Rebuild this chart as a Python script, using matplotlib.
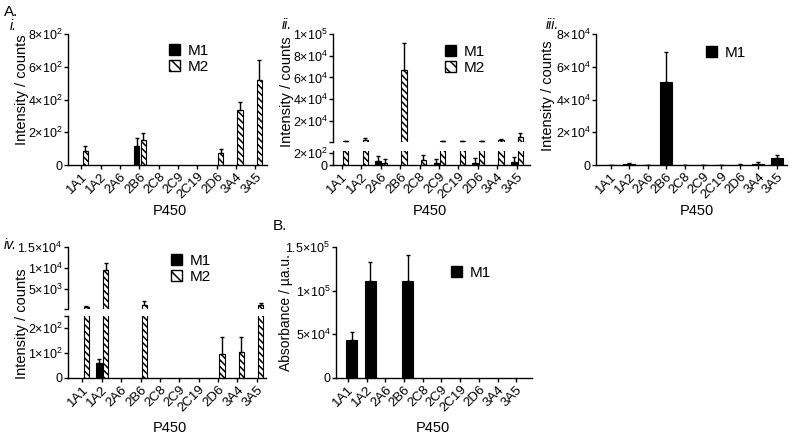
import numpy as np
import matplotlib
matplotlib.use("Agg")
import matplotlib.pyplot as plt
from matplotlib.patches import Patch

plt.rcParams['font.family'] = ['Liberation Sans', 'DejaVu Sans']
plt.rcParams['mathtext.fontset'] = 'custom'
plt.rcParams['mathtext.rm'] = 'Liberation Sans'
plt.rcParams['hatch.linewidth'] = 1.1

W, H = 800, 438
nan = np.nan

p450 = ['1A1', '1A2', '2A6', '2B6', '2C8', '2C9', '2C19', '2D6', '3A4', '3A5']

# A.i  Intensity / counts
i_m1 = [nan, nan, nan, 115, nan, nan, nan, nan, nan, nan]
i_m1_err = [0, 0, 0, 50, 0, 0, 0, 0, 0, 0]
i_m2 = [85, nan, nan, 153, nan, nan, nan, 73, 336, 519]
i_m2_err = [31, 0, 0, 42, 0, 0, 0, 25, 48, 122]

# A.ii
ii_m1 = [nan, nan, 73, nan, nan, 40, nan, 40, nan, 45]
ii_m1_err = [0, 0, 77, 0, 0, 60, 0, 80, 0, 90]
ii_m2 = [1000, 2500, 40, 67200, 80, 1000, 1200, 1500, 2000, 5400]
ii_m2_err = [200, 1500, 60, 24100, 90, 200, 200, 300, 1000, 3700]

# A.iii
iii_m1 = [150, 700, 100, 50500, 150, 150, 150, 300, 800, 4500]
iii_m1_err = [150, 400, 100, 18300, 150, 150, 150, 200, 900, 1600]

# A.iv
iv_m1 = [nan, 62, nan, nan, nan, nan, nan, nan, nan, nan]
iv_m1_err = [0, 14, 0, 0, 0, 0, 0, 0, 0, 0]
iv_m2 = [700, 9500, nan, 1200, nan, nan, nan, 97, 106, 1100]
iv_m2_err = [300, 1600, 0, 1000, 0, 0, 0, 68, 60, 650]

# B.  Absorbance
b_m1 = [44000, 111000, nan, 111000, nan, nan, nan, nan, nan, nan]
b_m1_err = [8300, 22000, 0, 29600, 0, 0, 0, 0, 0, 0]


def sci(m, e):
    return f'{m}×10$^{{{e}}}$'


def ax_px(fig, x0, y0, x1, y1):
    return fig.add_axes([x0 / W, 1 - y1 / H, (x1 - x0) / W, (y1 - y0) / H])


def style(ax, xlim, bottom=True):
    ax.spines['top'].set_visible(False)
    ax.spines['right'].set_visible(False)
    ax.spines['left'].set_linewidth(1)
    ax.spines['bottom'].set_linewidth(1)
    ax.set_xlim(xlim)
    ax.tick_params(direction='out', length=3, width=1, labelsize=9.5, pad=1)
    if bottom:
        ax.set_xticks(range(len(p450)))
        ax.set_xticklabels(p450, rotation=45, ha='right', rotation_mode='anchor')
    else:
        ax.spines['bottom'].set_visible(False)
        ax.set_xticks([])


def bars(ax, vals, errs, offset, width, hatched, vmin=None):
    vals = np.array(vals, dtype=float)
    errs = np.array(errs, dtype=float)
    ok = ~np.isnan(vals)
    if vmin is not None:
        ok &= np.nan_to_num(vals) > vmin
    x = np.arange(len(vals))[ok] + offset
    if hatched:
        ax.bar(x, vals[ok], width, color='white', edgecolor='black',
               linewidth=0.8, hatch='\\\\\\\\\\')
    else:
        ax.bar(x, vals[ok], width, color='black', edgecolor='black', linewidth=0.8)
    ax.errorbar(x, vals[ok], yerr=[np.zeros(ok.sum()), errs[ok]], fmt='none',
                ecolor='black', elinewidth=1, capsize=1.6, capthick=1)


def legend(ax, fx, fy, two=True):
    h = [Patch(facecolor='black', edgecolor='black')]
    lab = ['M1']
    if two:
        h.append(Patch(facecolor='white', edgecolor='black', hatch='\\\\\\'))
        lab.append('M2')
    ax.legend(h, lab, loc='upper left', bbox_to_anchor=(fx / W, 1 - fy / H),
              bbox_transform=fig.transFigure, frameon=False, fontsize=11,
              handlelength=0.75, handleheight=0.75, handletextpad=0.5,
              labelspacing=0.1, borderpad=0, borderaxespad=0)


def txt(x, y, s, **kw):
    fig.text(x / W, 1 - y / H, s, **kw)


OFF1, OFF2, BW = -0.14, 0.2, 0.27
YFS = 9

fig = plt.figure(figsize=(8, 4.38), dpi=100)

# ---- i.
ax = ax_px(fig, 68, 34, 267, 165)
style(ax, (-0.69, 9.6))
bars(ax, i_m1, i_m1_err, OFF1, BW, False)
bars(ax, i_m2, i_m2_err, OFF2, BW, True)
ax.set_ylim(0, 800)
ax.set_yticks([0, 200, 400, 600, 800])
ax.set_yticklabels(['0', sci(2, 2), sci(4, 2), sci(6, 2), sci(8, 2)], fontsize=YFS)
legend(ax, 169, 44)

# ---- ii. (broken axis)
ax_u = ax_px(fig, 333, 34, 530, 142)
style(ax_u, (-0.46, 9.69), bottom=False)
ax_l = ax_px(fig, 333, 151, 530, 165)
style(ax_l, (-0.46, 9.69))
bars(ax_u, ii_m1, ii_m1_err, OFF1, BW, False, vmin=500)
bars(ax_u, ii_m2, ii_m2_err, OFF2, BW, True, vmin=500)
bars(ax_l, ii_m1, ii_m1_err, OFF1, BW, False)
bars(ax_l, ii_m2, ii_m2_err, OFF2, BW, True)
ax_u.set_ylim(500, 100000)
ax_u.set_yticks([500, 20000, 40000, 60000, 80000, 100000])
ax_u.set_yticklabels(['', sci(2, 4), sci(4, 4), sci(6, 4), sci(8, 4), sci(1, 5)], fontsize=YFS)
ax_l.set_ylim(0, 230)
ax_l.set_yticks([0, 200])
ax_l.set_yticklabels(['0', sci(2, 2)], fontsize=YFS)
legend(ax_u, 445, 45)

# ---- iii.
ax = ax_px(fig, 596, 34, 787, 165)
style(ax, (-0.8, 9.55))
bars(ax, iii_m1, iii_m1_err, 0, 0.65, False)
ax.set_ylim(0, 80000)
ax.set_yticks([0, 20000, 40000, 60000, 80000])
ax.set_yticklabels(['0', sci(2, 4), sci(4, 4), sci(6, 4), sci(8, 4)], fontsize=YFS)
legend(ax, 706, 46, two=False)

# ---- iv. (broken axis)
ax_u = ax_px(fig, 68, 247, 266, 309)
style(ax_u, (-0.74, 9.47), bottom=False)
ax_l = ax_px(fig, 68, 316, 266, 378)
style(ax_l, (-0.74, 9.47))
bars(ax_u, iv_m1, iv_m1_err, OFF1, BW, False, vmin=250)
bars(ax_u, iv_m2, iv_m2_err, OFF2, BW, True, vmin=250)
bars(ax_l, iv_m1, iv_m1_err, OFF1, BW, False)
bars(ax_l, iv_m2, iv_m2_err, OFF2, BW, True)
ax_u.set_ylim(250, 15000)
ax_u.set_yticks([250, 5000, 10000, 15000])
ax_u.set_yticklabels(['', sci(5, 3), sci(1, 4), sci(1.5, 4)], fontsize=YFS)
ax_l.set_ylim(0, 250)
ax_l.set_yticks([0, 100, 200, 250])
ax_l.set_yticklabels(['0', sci(1, 2), sci(2, 2), ''], fontsize=YFS)
legend(ax_u, 171, 254)

# ---- B.
ax = ax_px(fig, 336, 247, 532, 378)
style(ax, (-0.63, 9.84))
bars(ax, b_m1, b_m1_err, 0.2, 0.6, False)
ax.set_ylim(0, 150000)
ax.set_yticks([0, 50000, 100000, 150000])
ax.set_yticklabels(['0', sci(5, 4), sci(1, 5), sci(1.5, 5)], fontsize=YFS)
legend(ax, 451, 266, two=False)

# labels
for x, y in [(170, 211), (430, 211), (697, 211), (170, 428), (433, 428)]:
    txt(x, y, 'P450', ha='center', va='center', fontsize=10.5)
for x, y, s in [(22, 90, 'Intensity / counts'), (287, 92, 'Intensity / counts'),
                (548, 96, 'Intensity / counts'), (22, 324, 'Intensity / counts')]:
    txt(x, y, s, ha='center', va='center', rotation=90, fontsize=10.5)
txt(286, 313, 'Absorbance / µa.u.', ha='center', va='center', rotation=90, fontsize=10)

txt(4, 12, 'A.', ha='left', va='center', fontsize=11)
txt(273, 226, 'B.', ha='left', va='center', fontsize=11)
txt(10, 26, 'i.', ha='left', va='center', fontsize=10, style='italic')
txt(282, 25, 'ii.', ha='left', va='center', fontsize=10, style='italic')
txt(546, 25, 'iii.', ha='left', va='center', fontsize=10, style='italic')
txt(4, 245, 'iv.', ha='left', va='center', fontsize=10, style='italic')

fig.savefig('out.png', dpi=100)
